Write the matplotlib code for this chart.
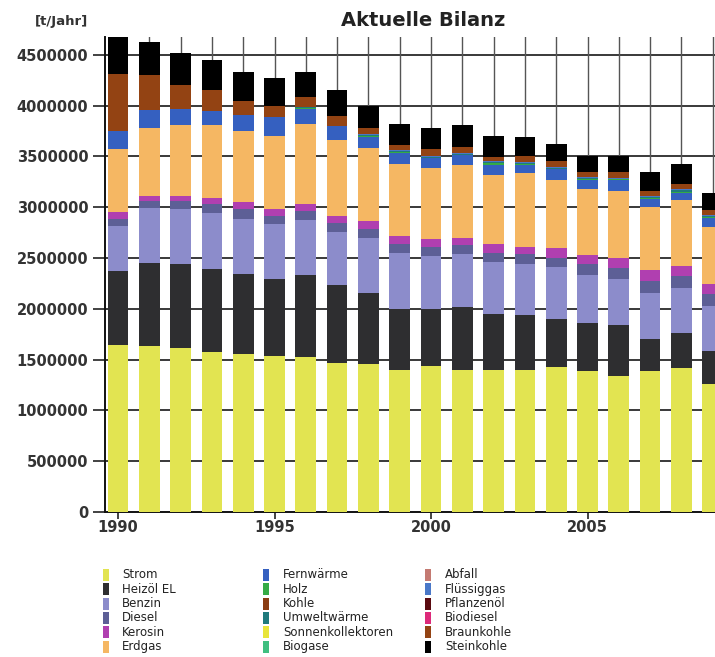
import matplotlib
matplotlib.use("Agg")
import matplotlib.pyplot as plt
from matplotlib.patches import Rectangle
import numpy as np

years = list(range(1990, 2010))

# values in tonnes per year
strom      = [1648000, 1632000, 1615000, 1572000, 1559000, 1533000, 1523000, 1467000, 1457000, 1401000,
              1441000, 1401000, 1401000, 1401000, 1428000, 1385000, 1342000, 1385000, 1418000, 1263000]
heizoel    = [724000, 822000, 822000, 823000, 786000, 756000, 806000, 763000, 701000, 599000,
              559000, 619000, 543000, 533000, 473000, 477000, 494000, 319000, 339000, 319000]
benzin     = [444000, 536000, 543000, 552000, 543000, 543000, 546000, 530000, 543000, 546000,
              520000, 516000, 520000, 504000, 513000, 467000, 460000, 454000, 450000, 444000]
diesel     = [72000, 66000, 76000, 83000, 92000, 82000, 89000, 82000, 82000, 89000,
              92000, 89000, 89000, 98000, 89000, 109000, 109000, 115000, 115000, 115000]
kerosin    = [66000, 56000, 56000, 65000, 73000, 73000, 66000, 72000, 82000, 82000,
              79000, 76000, 82000, 76000, 99000, 88000, 98000, 109000, 99000, 99000]
erdgas     = [618000, 668000, 697000, 714000, 700000, 717000, 789000, 750000, 717000, 707000,
              691000, 713000, 684000, 724000, 664000, 652000, 658000, 615000, 648000, 569000]
fernwaerme = [181000, 177000, 158000, 142000, 155000, 181000, 150000, 139000, 112000, 112000,
              99000, 99000, 95000, 79000, 105000, 89000, 105000, 79000, 66000, 89000]
holz       = [0, 0, 0, 0, 0, 0, 8000, 0, 8000, 10000,
              8000, 5000, 16000, 8000, 5000, 8000, 8000, 13000, 16000, 6000]
kohle      = [0, 0, 0, 0, 0, 0, 0, 0, 0, 0,
              0, 0, 0, 0, 0, 0, 0, 0, 0, 0]
umweltwaerme = [0, 0, 0, 0, 0, 0, 12000, 0, 8000, 10000,
              8000, 5000, 17000, 8000, 5000, 8000, 8000, 13000, 17000, 7000]
sonnenkollektoren = [0] * 20
biogase    = [0] * 20
abfall     = [0] * 20
fluessiggas = [0, 0, 0, 0, 0, 0, 0, 0, 10000, 10000,
              10000, 10000, 10000, 10000, 10000, 10000, 10000, 10000, 10000, 10000]
pflanzenoel = [0] * 20
biodiesel  = [0] * 20
braunkohle = [559000, 346000, 237000, 207000, 141000, 115000, 92000, 92000, 60000, 46000,
              66000, 63000, 39000, 66000, 66000, 49000, 56000, 49000, 49000, 53000]
steinkohle = [400000, 322000, 312000, 286000, 280000, 273000, 253000, 263000, 220000, 207000,
              204000, 208000, 200000, 187000, 165000, 165000, 151000, 181000, 197000, 164000]

labels = ["Strom", "Heizöl EL", "Benzin", "Diesel", "Kerosin", "Erdgas",
          "Fernwärme", "Holz", "Kohle", "Umweltwärme", "Sonnenkollektoren", "Biogase",
          "Abfall", "Flüssiggas", "Pflanzenöl", "Biodiesel", "Braunkohle", "Steinkohle"]
series = [strom, heizoel, benzin, diesel, kerosin, erdgas,
          fernwaerme, holz, kohle, umweltwaerme, sonnenkollektoren, biogase,
          abfall, fluessiggas, pflanzenoel, biodiesel, braunkohle, steinkohle]
colors = ["#e2e451", "#2e2e30", "#8c8ccb", "#5d5f96", "#b03fb0", "#f5b763",
          "#3560c0", "#35ab45", "#8a3c12", "#1f7a7c", "#e8e53a", "#3fbf80",
          "#c47a72", "#4a78c8", "#5a0a10", "#dd2a7a", "#934313", "#000000"]

W, H = 715, 657
fig = plt.figure(figsize=(W / 100, H / 100), dpi=100)
fig.patch.set_facecolor("white")

ax_left, ax_right, ax_top, ax_bottom = 105, 715, 37, 512
ax = fig.add_axes([ax_left / W, 1 - ax_bottom / H, (ax_right - ax_left) / W, (ax_bottom - ax_top) / H])

px_per_year = 31.3
x0 = 1990 - (118 - ax_left) / px_per_year
x1 = x0 + (ax_right - ax_left) / px_per_year
ax.set_xlim(x0, x1)
ax.set_ylim(0, 4675000)

bottom = np.zeros(len(years))
for vals, col, lab in zip(series, colors, labels):
    v = np.array(vals, dtype=float)
    ax.bar(years, v, bottom=bottom, width=0.66, color=col, linewidth=0, zorder=3, label=lab)
    bottom += v

# grid
for y in range(500000, 4675000, 500000):
    ax.axhline(y, color="#2a2a2a", lw=1.3, zorder=1)
for yr in years:
    ax.axvline(yr, color="#555555", lw=1.0, zorder=1)

for s in ["top", "right"]:
    ax.spines[s].set_visible(False)
ax.spines["left"].set_color("#111111")
ax.spines["left"].set_linewidth(1.4)
ax.spines["bottom"].set_color("#111111")
ax.spines["bottom"].set_linewidth(1.4)

ax.set_yticks(range(0, 4500001, 500000))
ax.set_yticklabels([str(v) for v in range(0, 4500001, 500000)])
ax.set_xticks([1990, 1995, 2000, 2005])
ax.set_xticklabels(["1990", "1995", "2000", "2005"])
ax.tick_params(axis="y", direction="out", length=9, width=1.2, color="#222222", pad=3,
               labelsize=10.5, labelcolor="#333333")
ax.tick_params(axis="x", direction="inout", length=10, width=1.2, color="#222222", pad=1,
               labelsize=10.5, labelcolor="#333333")
for t in ax.get_yticklabels() + ax.get_xticklabels():
    t.set_fontweight("bold")

fig.text(423 / W, 1 - 20 / H, "Aktuelle Bilanz", ha="center", va="center",
         fontsize=14, fontweight="bold", color="#222222")
fig.text(88 / W, 1 - 22 / H, "[t/Jahr]", ha="right", va="center",
         fontsize=9.5, fontweight="bold", color="#333333")

# legend (3 columns x 6 rows)
col_patch_x = [103, 263, 425]
col_text_x = [122, 283, 445]
row_y = [575, 589.3, 603.6, 617.9, 632.2, 646.5]
for i, (lab, col) in enumerate(zip(labels, colors)):
    c, r = divmod(i, 6)
    yc = row_y[r]
    fig.add_artist(Rectangle((col_patch_x[c] / W, 1 - (yc + 6) / H), 6 / W, 12 / H,
                             transform=fig.transFigure, facecolor=col, edgecolor="none"))
    fig.text(col_text_x[c] / W, 1 - yc / H, lab, ha="left", va="center",
             fontsize=8.5, color="#222222")

fig.savefig("out.png", dpi=100)
